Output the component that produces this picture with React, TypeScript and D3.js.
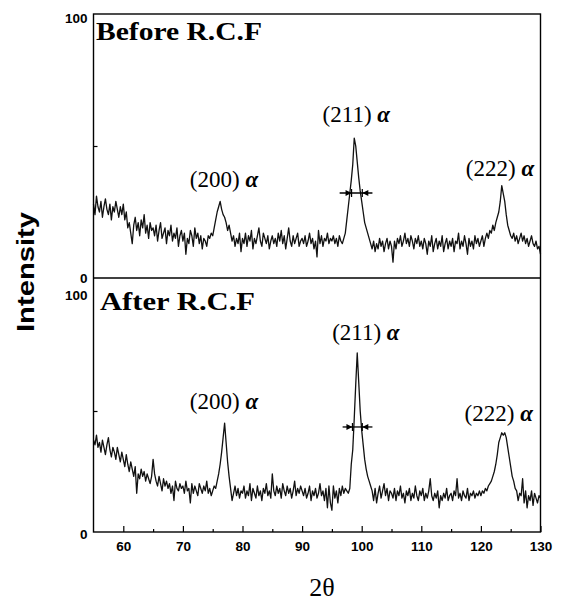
import { useEffect, useRef } from 'react';
import * as d3 from 'd3';

// scan: 2θ from 55° to 130°, step 0.25°
const thetaStart = 55;
const thetaStep = 0.25;

const beforeRcf = [
  28, 24, 31, 27, 25, 29, 23, 27, 30, 26, 24, 28, 22, 27, 25, 29, 26, 23, 27, 24,
  28, 22, 25, 19, 21, 17, 13, 20, 23, 18, 21, 16, 22, 19, 24, 17, 20, 15, 21, 18,
  19, 16, 20, 14, 18, 21, 15, 17, 19, 13, 18, 16, 20, 14, 17, 15, 19, 12, 16, 18,
  14, 17, 9, 15, 13, 18, 16, 12, 19, 15, 17, 13, 16, 11, 15, 14, 12, 16, 15, 17,
  16, 19, 22, 25, 27, 29, 26, 24, 23, 21, 18, 20, 17, 14, 16, 12, 15, 13, 17, 10,
  15, 13, 17, 12, 16, 14, 18, 11, 15, 13, 16, 19, 14, 12, 17, 15, 13, 16, 11, 14,
  16, 13, 15, 12, 17, 14, 18, 13, 16, 11, 15, 19, 14, 12, 16, 13, 15, 17, 12, 14,
  15, 13, 16, 12, 14, 17, 13, 15, 11, 14, 8, 18, 13, 16, 12, 15, 14, 17, 13, 15,
  14, 16, 13, 15, 12, 16, 14, 13, 15, 17, 22, 27, 32, 37, 43, 53, 50, 44, 38, 33,
  29, 25, 21, 19, 17, 15, 13, 11, 14, 10, 13, 11, 15, 12, 14, 10, 13, 15, 11, 14,
  12, 6, 14, 11, 15, 13, 16, 12, 14, 17, 13, 15, 12, 16, 14, 11, 15, 13, 16, 12,
  14, 11, 15, 13, 9, 14, 12, 16, 10, 13, 15, 11, 14, 12, 16, 10, 13, 15, 11, 14,
  12, 15, 10, 14, 13, 17, 11, 14, 12, 16, 13, 9, 15, 12, 14, 11, 16, 13, 15, 12,
  14, 16, 12, 15, 17, 15, 18, 17, 20, 18, 21, 23, 25, 29, 35, 32, 29, 24, 20, 18,
  16, 15, 17, 14, 16, 13, 15, 17, 14, 16, 13, 15, 12, 14, 16, 13, 12, 14, 11, 12,
  9,
];

const afterRcf = [
  38, 36, 40, 35, 37, 33, 38, 35, 32, 36, 39, 34, 31, 35, 33, 30, 35, 32, 29, 33,
  30, 27, 32, 28, 25, 29, 26, 23, 27, 16, 24, 22, 26, 23, 25, 21, 24, 22, 20, 23,
  30, 24, 21, 19, 23, 20, 17, 22, 19, 21, 18, 20, 16, 19, 13, 21, 18, 17, 20, 18,
  19, 16, 21, 17, 18, 12, 20, 16, 19, 17, 15, 20, 18, 16, 19, 17, 21, 16, 18, 15,
  17, 19, 18, 21, 24, 28, 33, 39, 45, 37, 29, 23, 18, 13, 16, 19, 15, 18, 14, 17,
  16, 19, 14, 17, 15, 20, 13, 18, 16, 14, 19, 15, 17, 13, 18, 16, 20, 15, 17, 14,
  24, 17, 15, 19, 16, 18, 14, 20, 17, 15, 19, 16, 18, 14, 17, 21, 15, 18, 16, 19,
  17, 15, 18, 14, 16, 19, 13, 17, 15, 18, 14, 16, 20, 15, 17, 13, 18, 10, 19, 12,
  9, 19, 14, 17, 12, 18, 15, 19, 16, 18, 17, 16, 18, 28, 34, 47, 61, 74, 62, 50,
  42, 36, 30, 26, 23, 21, 19, 17, 13, 18, 12, 16, 19, 14, 17, 20, 15, 18, 13, 17,
  16, 14, 18, 13, 17, 15, 19, 14, 16, 12, 17, 15, 18, 13, 16, 14, 19, 15, 13, 17,
  15, 18, 13, 16, 14, 17, 22, 15, 13, 16, 14, 17, 10, 15, 13, 16, 14, 18, 13, 15,
  16, 13, 17, 15, 22, 14, 16, 13, 17, 15, 14, 18, 13, 16, 15, 17, 14, 16, 15, 17,
  15, 17, 16, 18, 17, 19, 20, 21, 23, 25, 28, 32, 37, 39, 41, 40, 41, 39, 35, 31,
  27, 23, 21, 18, 17, 13, 16, 15, 22, 12, 17, 10, 15, 13, 17, 11, 16, 14, 12, 15,
  14,
];

const xTicksMajor = [60, 70, 80, 90, 100, 110, 120, 130];
const xTicksMinor = [65, 75, 85, 95, 105, 115, 125];
const yTickLabels = [0, 100];

const panelTitles = ['Before R.C.F', 'After R.C.F'];
const peakNames = ['(200)', '(211)', '(222)'];
const phase = 'α';

const serif = '"Liberation Serif", "Times New Roman", serif';
const sans = '"Liberation Sans", Arial, sans-serif';

function App() {
  const svgRef = useRef<SVGSVGElement>(null);

  useEffect(() => {
    const svg = d3.select(svgRef.current);
    svg.selectAll('*').remove();

    const x = d3.scaleLinear().domain([55, 130]).range([93.5, 540.5]);
    const yTop = d3.scaleLinear().domain([0, 100]).range([278, 14]);
    const yBot = d3.scaleLinear().domain([0, 100]).range([532, 290]);

    const panels = [
      {
        values: beforeRcf, y: yTop, title: panelTitles[0], titleX: 96, titleY: 40, titleLen: 166,
        labelDy: { 0: '0.3em', 100: '0.6em' } as Record<number, string>,
        labels: [[76.9, 34.5], [99.1, 59], [123.2, 38.6]],
        fwhm: { level: 32.2, tailL: 96.3, tipL: 98.3, tipR: 100.1, tailR: 101.8 },
      },
      {
        values: afterRcf, y: yBot, title: panelTitles[1], titleX: 100, titleY: 310, titleLen: 155,
        labelDy: { 0: '0.45em', 100: '0.72em' } as Record<number, string>,
        labels: [[76.9, 50.8], [100.7, 79.3], [123.0, 45.9]],
        fwhm: { level: 43.4, tailL: 96.8, tipL: 98.45, tipR: 100.1, tailR: 101.8 },
      },
    ];

    panels.forEach((p) => {
      const g = svg.append('g');

      // trace
      const line = d3.line<number>()
        .x((_, i) => x(thetaStart + i * thetaStep))
        .y((d) => p.y(d));

      g.append('path')
        .datum(p.values)
        .attr('fill', 'none')
        .attr('stroke', '#111')
        .attr('stroke-width', 1.3)
        .attr('stroke-linejoin', 'round')
        .attr('d', line);

      // y labels 0 / 100
      const yAxis = g.append('g')
        .attr('transform', `translate(${x(55)},0)`)
        .call(d3.axisLeft(p.y).tickValues(yTickLabels).tickSize(0).tickPadding(6));
      yAxis.select('.domain').remove();
      yAxis.selectAll<SVGTextElement, number>('text')
        .attr('dy', (d) => p.labelDy[d])
        .attr('fill', '#000')
        .style('font-family', sans)
        .style('font-weight', 'bold')
        .style('font-size', '13.5px');

      // small inner tick at 50
      const yMid = g.append('g')
        .attr('transform', `translate(${x(55)},0)`)
        .call(d3.axisLeft(p.y).tickValues([50]).tickSize(-4).tickFormat(() => ''));
      yMid.select('.domain').remove();
      yMid.selectAll('line').attr('stroke', '#000').attr('stroke-width', 1.2);

      // title
      g.append('text')
        .attr('x', p.titleX)
        .attr('y', p.titleY)
        .attr('textLength', p.titleLen)
        .attr('lengthAdjust', 'spacingAndGlyphs')
        .style('font-family', serif)
        .style('font-weight', 'bold')
        .style('font-size', '26px')
        .text(p.title);

      // peak labels
      peakNames.forEach((name, i) => {
        const t = g.append('text')
          .attr('x', x(p.labels[i][0]))
          .attr('y', p.y(p.labels[i][1]))
          .attr('text-anchor', 'middle')
          .style('font-family', serif)
          .style('font-size', '23px');
        t.append('tspan').text(name + ' ');
        t.append('tspan')
          .style('font-weight', 'bold')
          .style('font-style', 'italic')
          .text(phase);
      });

      // FWHM arrows
      const f = p.fwhm;
      const fy = p.y(f.level);
      g.append('line')
        .attr('x1', x(f.tailL)).attr('x2', x(f.tailR))
        .attr('y1', fy).attr('y2', fy)
        .attr('stroke', '#000').attr('stroke-width', 1.3);
      const head = (tip: number, dir: number) =>
        `M${tip},${fy} L${tip - dir * 6},${fy - 3} L${tip - dir * 6},${fy + 3} Z`;
      g.append('path').attr('d', head(x(f.tipL), 1)).attr('fill', '#000');
      g.append('path').attr('d', head(x(f.tipR), -1)).attr('fill', '#000');
      [f.tipL, f.tipR].forEach((v) => {
        g.append('line')
          .attr('x1', x(v)).attr('x2', x(v))
          .attr('y1', fy - 4).attr('y2', fy + 4)
          .attr('stroke', '#000').attr('stroke-width', 1.2);
      });
    });

    // frame + divider
    svg.append('rect')
      .attr('x', x(55)).attr('y', yTop(100))
      .attr('width', x(130) - x(55)).attr('height', yBot(0) - yTop(100))
      .attr('fill', 'none').attr('stroke', '#000').attr('stroke-width', 1.4);
    svg.append('line')
      .attr('x1', x(55)).attr('x2', x(130))
      .attr('y1', yTop(0)).attr('y2', yTop(0))
      .attr('stroke', '#000').attr('stroke-width', 1.4);

    // bottom axis, ticks pointing inward
    const xAxis = svg.append('g')
      .attr('transform', `translate(0,${yBot(0)})`)
      .call(d3.axisBottom(x).tickValues(xTicksMajor).tickSize(-6).tickPadding(9));
    xAxis.select('.domain').remove();
    xAxis.selectAll('line').attr('stroke', '#000').attr('stroke-width', 1.2);
    xAxis.selectAll('text')
      .attr('fill', '#000')
      .style('font-family', sans)
      .style('font-weight', 'bold')
      .style('font-size', '13.5px');

    const xMinor = svg.append('g')
      .attr('transform', `translate(0,${yBot(0)})`)
      .call(d3.axisBottom(x).tickValues(xTicksMinor).tickSize(-3).tickFormat(() => ''));
    xMinor.select('.domain').remove();
    xMinor.selectAll('line').attr('stroke', '#000').attr('stroke-width', 1.2);

    // axis titles
    svg.append('text')
      .attr('transform', 'translate(34,272) rotate(-90)')
      .attr('text-anchor', 'middle')
      .attr('textLength', 120)
      .attr('lengthAdjust', 'spacingAndGlyphs')
      .style('font-family', sans)
      .style('font-weight', 'bold')
      .style('font-size', '23px')
      .text('Intensity');

    svg.append('text')
      .attr('x', 322)
      .attr('y', 596)
      .attr('text-anchor', 'middle')
      .style('font-family', serif)
      .style('font-size', '26px')
      .text('2θ');
  }, []);

  return (
    <svg
      ref={svgRef}
      width={561}
      height={602}
      style={{ position: 'absolute', left: 0, top: 0, background: '#fff' }}
    />
  );
}

export default App;
